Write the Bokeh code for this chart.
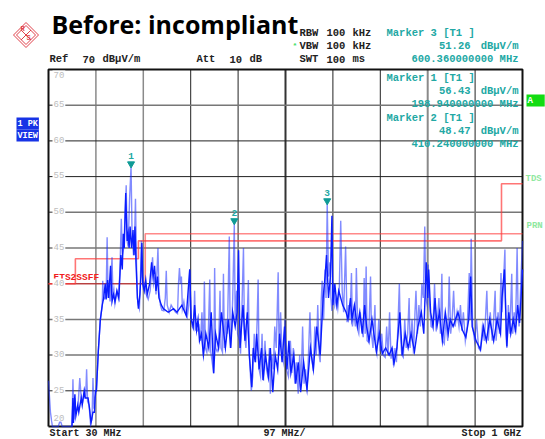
from bokeh.plotting import figure
from bokeh.models import Label
from bokeh.embed import file_html
from bokeh.resources import INLINE

# ---- values ----
light_freq = [30, 34, 38, 50, 54, 58, 78, 80, 82, 84,
              86, 88, 91, 94, 97, 100, 104, 106, 108, 110,
              113, 116, 119, 121, 123, 125, 128, 132, 136, 140,
              141, 143, 146, 148, 150, 152, 154, 156, 158, 160,
              162, 164, 166, 170, 173, 176, 179, 181, 184, 187,
              189, 191, 193, 196, 198.94, 201, 204, 206, 208, 210,
              212, 214, 216, 218, 220, 222, 224, 227, 230, 234,
              238, 243, 245, 248, 250, 254, 256, 259, 262, 266,
              269, 271, 273, 277, 281, 285, 290, 294, 296, 298,
              300, 302, 304, 307, 310, 314, 317, 319, 321, 324,
              327, 329, 331, 335, 338, 341, 344, 347, 349, 351,
              354, 357, 360, 362, 365, 368, 370, 372, 375, 378,
              381, 383, 386, 388, 390, 393, 396, 400, 402, 405,
              407, 410.24, 412, 415, 417, 421, 423, 426, 429, 431,
              434, 437, 439, 441, 445, 448, 451, 454, 457, 459,
              461, 464, 467, 470, 473, 476, 479, 482, 484, 487,
              490, 493, 496, 498, 500, 502, 505, 508, 511, 514,
              517, 521, 525, 528, 531, 534, 537, 541, 544, 547,
              550, 553, 556, 559, 562, 565, 568, 572, 575, 578,
              581, 584, 586, 588, 590, 593, 596, 598, 600.36, 603,
              606, 608, 610, 613, 616, 619, 622, 625, 628, 631,
              634, 638, 641, 644, 647, 650, 652, 655, 658, 660,
              663, 665, 668, 671, 674, 676, 678, 680, 682, 685,
              689, 691, 694, 698, 700, 702, 706, 709, 712, 715,
              719, 722, 725, 728, 731, 734, 736, 739, 742, 745,
              748, 750, 753, 756, 759, 762, 765, 768, 770, 774,
              777, 780, 782, 785, 788, 791, 794, 797, 800, 802,
              805, 807, 810, 813, 815, 818, 820, 823, 826, 829,
              832, 835, 837, 840, 843, 847, 850, 853, 856, 859,
              862, 866, 870, 873, 876, 879, 883, 887, 891, 893,
              895, 898, 902, 906, 910, 914, 918, 922, 927, 930,
              934, 938, 941, 944, 946, 950, 953, 956, 958, 961,
              964, 966, 968, 971, 974, 978, 980, 983, 985, 987,
              989, 991, 993, 995, 997, 1000]
light_level = [26.4, 22, 20, 20, 20.9, 20, 20, 26.6, 21, 24,
               22, 22.2, 23.5, 26.8, 24, 23.5, 25, 24, 28, 23.5,
               23, 20.4, 21, 26.8, 22.5, 24, 25, 30.6, 34.9, 37,
               40.4, 37.8, 38, 38.6, 46.5, 38, 39, 37.5, 41, 43.7,
               38, 39, 37.2, 39, 38, 41.5, 49.1, 44, 45, 50,
               53.8, 46, 45.2, 52, 56.43, 47, 44, 46, 51.9, 43,
               38, 37, 36.5, 40, 46, 41, 39.5, 40, 38.5, 37.8,
               39, 43.7, 40, 41, 38.5, 45, 39, 37, 36.3, 36.2,
               38, 41.8, 37, 36, 37, 36.5, 36, 35.8, 40, 42.2,
               40, 41, 36.5, 37.5, 36, 35.3, 37, 42, 36, 34,
               33.6, 39, 33.5, 33.4, 34, 32, 36, 30, 40.3, 31,
               30.4, 33, 40.6, 30.5, 29, 27.4, 42.2, 31, 30.5, 31,
               39, 31, 30.4, 41.4, 31, 35, 33, 46.6, 31, 34,
               38, 48.47, 35, 39, 33, 32, 30.2, 37, 45, 33,
               31, 36, 40.5, 30, 25, 27, 33, 29, 35, 40.6,
               28, 27, 33, 26.4, 32, 28, 27, 31, 24.6, 30,
               28, 34, 31, 36, 41.6, 30, 36, 30, 29, 35,
               28, 27, 32, 27.5, 31, 26, 29, 24.6, 30, 26,
               34, 26, 28, 25, 30, 36, 30, 27.8, 34, 30,
               37, 30, 29, 37.5, 40.4, 35, 42, 38, 51.26, 41,
               43, 38, 36.2, 40, 37, 38, 36.5, 39, 48.8, 39,
               36, 45.2, 34.6, 37, 35, 41.5, 34, 36, 34, 42.2,
               33.5, 33, 36, 34, 32.5, 40.8, 33, 42.4, 32, 31.8,
               41, 33, 31, 37, 31, 30.2, 35, 30.5, 33, 30,
               29.7, 34, 30, 36, 29.5, 31, 28.6, 31, 29, 34,
               40, 33, 30, 29.7, 35, 31, 33, 38, 31, 35,
               30.2, 36, 39, 33, 37, 34, 40, 38, 48, 38,
               37, 42.7, 37, 34, 33.9, 36, 40, 34, 35, 38,
               33, 41.4, 32, 31.6, 35, 32, 41, 33, 35, 39,
               34, 36, 34, 37, 33.4, 36, 32, 34, 41.5, 35,
               46.3, 34, 32, 35, 31, 30.6, 34, 32, 39, 32,
               36, 32, 35, 39, 32, 36, 33, 41.5, 36, 40,
               44.8, 33, 31, 37, 33, 41.4, 33, 36, 33.2, 38,
               45, 36, 34, 37.2, 41, 46]

dark_freq = [78, 80, 81, 84, 86, 90, 92, 97, 99, 103,
             105, 111, 114, 117, 121, 124, 126, 128, 132, 136,
             140, 143, 146, 148, 151, 153, 157, 160, 163, 166,
             170, 174, 178, 181, 183, 185, 188, 191, 193, 195,
             197, 200, 203, 205, 207, 209, 212, 214, 217, 219,
             221, 223, 226, 229, 232, 237, 241, 244, 247, 250,
             253, 256, 261, 265, 275, 286, 293, 303, 312, 319,
             322, 326, 329, 333, 336, 339, 343, 347, 352, 358,
             363, 368, 372, 378, 384, 392, 398, 403, 407, 412,
             416, 419, 422, 428, 432, 437, 441, 446, 449, 453,
             456, 461, 466, 469, 474, 480, 484, 489, 494, 499,
             503, 508, 513, 518, 522, 526, 532, 536, 541, 546,
             552, 559, 566, 572, 579, 586, 592, 596, 599, 603,
             607, 610, 612, 616, 620, 624, 632, 639, 643, 648,
             651, 656, 662, 667, 672, 677, 681, 686, 692, 701,
             707, 713, 720, 727, 733, 737, 743, 749, 754, 760,
             766, 772, 779, 786, 793, 798, 803, 806, 808, 812,
             817, 821, 825, 830, 836, 842, 848, 852, 858, 868,
             877, 884, 890, 894, 897, 905, 914, 920, 926, 933,
             941, 948, 955, 958, 963, 968, 972, 976, 981, 986,
             990, 994, 997, 1000]
dark_level = [20, 24, 20.5, 24.5, 21.5, 23, 22, 24, 23, 25,
              24, 24, 22.5, 20.5, 22, 22, 25, 25, 30.6, 34.9,
              37, 38, 40, 37.8, 40.5, 38, 42.5, 37.5, 38.5, 37.5,
              39, 38, 44, 42, 47, 45, 52.7, 46, 47, 45,
              48, 45, 47.5, 44, 48, 43, 38, 36.5, 38.5, 41,
              45.7, 40, 39, 40.5, 38.5, 40, 43, 41, 42.5, 39,
              41, 38, 37, 36.5, 36, 36.5, 36, 37, 35.5, 42,
              35, 34, 37, 33.5, 35, 32, 33, 30, 33, 31,
              36, 27.5, 33, 31, 36, 31, 35, 31, 36, 34,
              36, 44.7, 31, 37, 32, 36, 30, 25.5, 31, 29,
              33, 28, 31, 26.5, 30, 27, 31, 24.8, 30, 28,
              33, 29, 34, 28, 32, 27.5, 30, 26, 29, 24.8,
              29, 25.2, 31, 28, 34, 30, 38, 41, 44, 38,
              41, 49.5, 37, 40, 37, 39, 37, 36, 35, 38,
              35, 37, 34, 36, 33, 37, 34, 32, 35, 30.5,
              33, 30.2, 31, 30, 31, 28.8, 31, 36, 30, 33,
              31, 33, 30.5, 34, 36, 33, 43, 38, 42, 36,
              34, 38, 34, 36, 32, 36, 33, 35, 34, 36,
              33.5, 32.5, 35, 41, 34, 32, 30.8, 34, 32, 35,
              32, 35, 33, 38, 42, 31.2, 36, 33, 35, 33.4,
              37, 34.5, 38, 42]

limit_freq_a = [30, 85, 85, 214, 214, 957, 957, 1000]
limit_level_a = [40, 40, 43.5, 43.5, 46, 46, 54, 54]
limit_freq_b = [30, 228, 228, 1000]
limit_level_b = [40, 40, 47, 47]

marker_freq = [198.94, 410.24, 600.36]
marker_level = [56.43, 48.47, 51.26]
marker_names = ["1", "2", "3"]

y_tick_values = [70, 65, 60, 55, 50, 45, 40, 35, 30, 25, 20]
x_grid_freq = [127, 224, 321, 418, 515, 612, 709, 806, 903]
x_grid_color = ["#8a8a8a", "#8a8a8a", "#222222", "#222222", "#333333", "#222222", "#222222", "#8a8a8a", "#222222"]
x_grid_width = [1.5, 1.5, 1, 1, 2, 1, 1, 2, 1]
y_grid_level = [65, 60, 55, 50, 45, 40, 35, 30, 25]
y_grid_color = ["#777777", "#222222", "#222222", "#777777", "#777777", "#222222", "#777777", "#777777", "#222222"]
y_grid_width = [1.5, 1, 1, 1.5, 1.5, 1, 1.5, 1.5, 1]
F_MIN, F_MAX, L_MIN, L_MAX = 30, 1000, 20, 70


# reference-pixel helpers for the annotation text
def X(px):
    return F_MIN + (px - 48) / 474 * (F_MAX - F_MIN)
def Y(py):
    return L_MAX - (py - 69) / 357 * (L_MAX - L_MIN)


W, H = 545, 439
p = figure(width=W, height=H, x_range=(X(0), X(W)), y_range=(Y(H), Y(0)),
           output_backend="svg", toolbar_location=None,
           min_border_left=0, min_border_right=0, min_border_top=0, min_border_bottom=0,
           background_fill_color="white", border_fill_color="white")
p.xaxis.visible = False
p.yaxis.visible = False
p.xgrid.visible = False
p.ygrid.visible = False
p.outline_line_color = None

p.segment(x_grid_freq, [L_MIN] * 9, x_grid_freq, [L_MAX] * 9, line_color=x_grid_color, line_width=x_grid_width)
p.segment([F_MIN] * 9, y_grid_level, [F_MAX] * 9, y_grid_level, line_color=y_grid_color, line_width=y_grid_width)
p.multi_line([[F_MIN, F_MAX, F_MAX, F_MIN, F_MIN]], [[L_MIN, L_MIN, L_MAX, L_MAX, L_MIN]],
             line_color="#111111", line_width=2)

p.line(limit_freq_b, limit_level_b, line_color="#ff3b3b", line_width=1.6, line_alpha=0.6)
p.line(limit_freq_a, limit_level_a, line_color="#ff3b3b", line_width=1.6, line_alpha=0.7)

p.line(light_freq, light_level, line_color="#1a2cff", line_width=1.4, line_alpha=0.55, line_join="miter")
p.line(dark_freq, dark_level, line_color="#0a1cff", line_width=1.4, line_join="miter")

p.scatter(marker_freq, [l + 0.35 for l in marker_level], marker="inverted_triangle",
          size=7, fill_color="#0f9b96", line_color="#0f9b96")

# logo
LOGO = "#e0404a"
cx, cy = 25.5, 34.5
for half in (12.5, 9.5):
    p.line([X(cx - half), X(cx), X(cx + half), X(cx), X(cx - half)],
           [Y(cy), Y(cy - half), Y(cy), Y(cy + half), Y(cy)], line_color=LOGO, line_width=1)
p.line([X(cx - 5), X(cx + 5)], [Y(cy - 5), Y(cy + 5)], line_color=LOGO, line_width=1)
p.line([X(cx - 5), X(cx + 5)], [Y(cy + 5), Y(cy - 5)], line_color=LOGO, line_width=1)


def lab(text, px, py, size=10.5, color="#222222", font="Liberation Mono", style="bold", align="left", **kw):
    p.add_layout(Label(x=X(px), y=Y(py), text=text, text_font=font, text_font_size=f"{size}px",
                       text_font_style=style, text_color=color, text_align=align,
                       text_baseline="middle", **kw))


lab("Before: incompliant", 51, 23, size=25, color="#000000", font="Open Sans")
lab("R", 20, 28, size=7, color=LOGO)
lab("S", 26, 37, size=7, color=LOGO)

# instrument settings
lab("Ref", 49, 58.5)
lab("70", 82, 58.5)
lab("dBµV/m", 102, 58.5)
lab("Att", 196, 58.5)
lab("10", 229, 58.5)
lab("dB", 249, 58.5)
lab("RBW", 299, 32)
lab("100", 326, 32)
lab("kHz", 352, 32)
lab("*", 292, 45, size=8, color="#44dd66")
lab("VBW", 299, 45)
lab("100", 326, 45)
lab("kHz", 352, 45)
lab("SWT", 299, 58.5)
lab("100", 326, 58.5)
lab("ms", 352, 58.5)

TEAL = "#22a8a4"
lab("Marker 3 [T1 ]", 386, 32, color=TEAL)
lab("51.26", 470, 45, color=TEAL, align="right")
lab("dBµV/m", 518, 45, color=TEAL, align="right")
lab("600.360000000 MHz", 518, 58.5, color=TEAL, align="right")
lab("Marker 1 [T1 ]", 386, 77, color=TEAL)
lab("56.43", 470, 90, color=TEAL, align="right")
lab("dBµV/m", 518, 90, color=TEAL, align="right")
lab("198.940000000 MHz", 518, 103, color=TEAL, align="right")
lab("Marker 2 [T1 ]", 386, 117, color=TEAL)
lab("48.47", 470, 130, color=TEAL, align="right")
lab("dBµV/m", 518, 130, color=TEAL, align="right")
lab("410.240000000 MHz", 518, 143, color=TEAL, align="right")

# side boxes
for txt, py in (("1 PK", 123), ("VIEW", 135)):
    lab(txt, 16, py, size=8.5, color="white", background_fill_color="#1733e6", padding=1)
lab(" A ", 526, 100, size=9, color="white", background_fill_color="#12dc12", padding=1)
lab("TDS", 525, 178, size=9, color="#8fe89f")
lab("PRN", 526, 225, size=9, color="#8fe89f")

lab("ETS2SSFF", 53, 277, size=9.5, color="#f02020")

for v, py in zip(y_tick_values, [74, 103, 139, 174, 210, 246, 282, 318, 353, 389, 417]):
    lab(str(v), 52, py, size=9, color="#bdbdbd", style="normal", background_fill_color="white", padding=1)

for n, f, l in zip(marker_names, marker_freq, marker_level):
    p.add_layout(Label(x=f, y=l + 1.5, text=n, text_font="Liberation Mono", text_font_size="9.5px",
                       text_font_style="bold", text_color=TEAL, text_align="center",
                       text_baseline="middle"))

lab("Start 30 MHz", 49, 432.5, size=10)
lab("97 MHz/", 263, 432.5, size=10)
lab("Stop 1 GHz", 521, 432.5, size=10, align="right")

open("out.html", "w").write(file_html(p, INLINE))
